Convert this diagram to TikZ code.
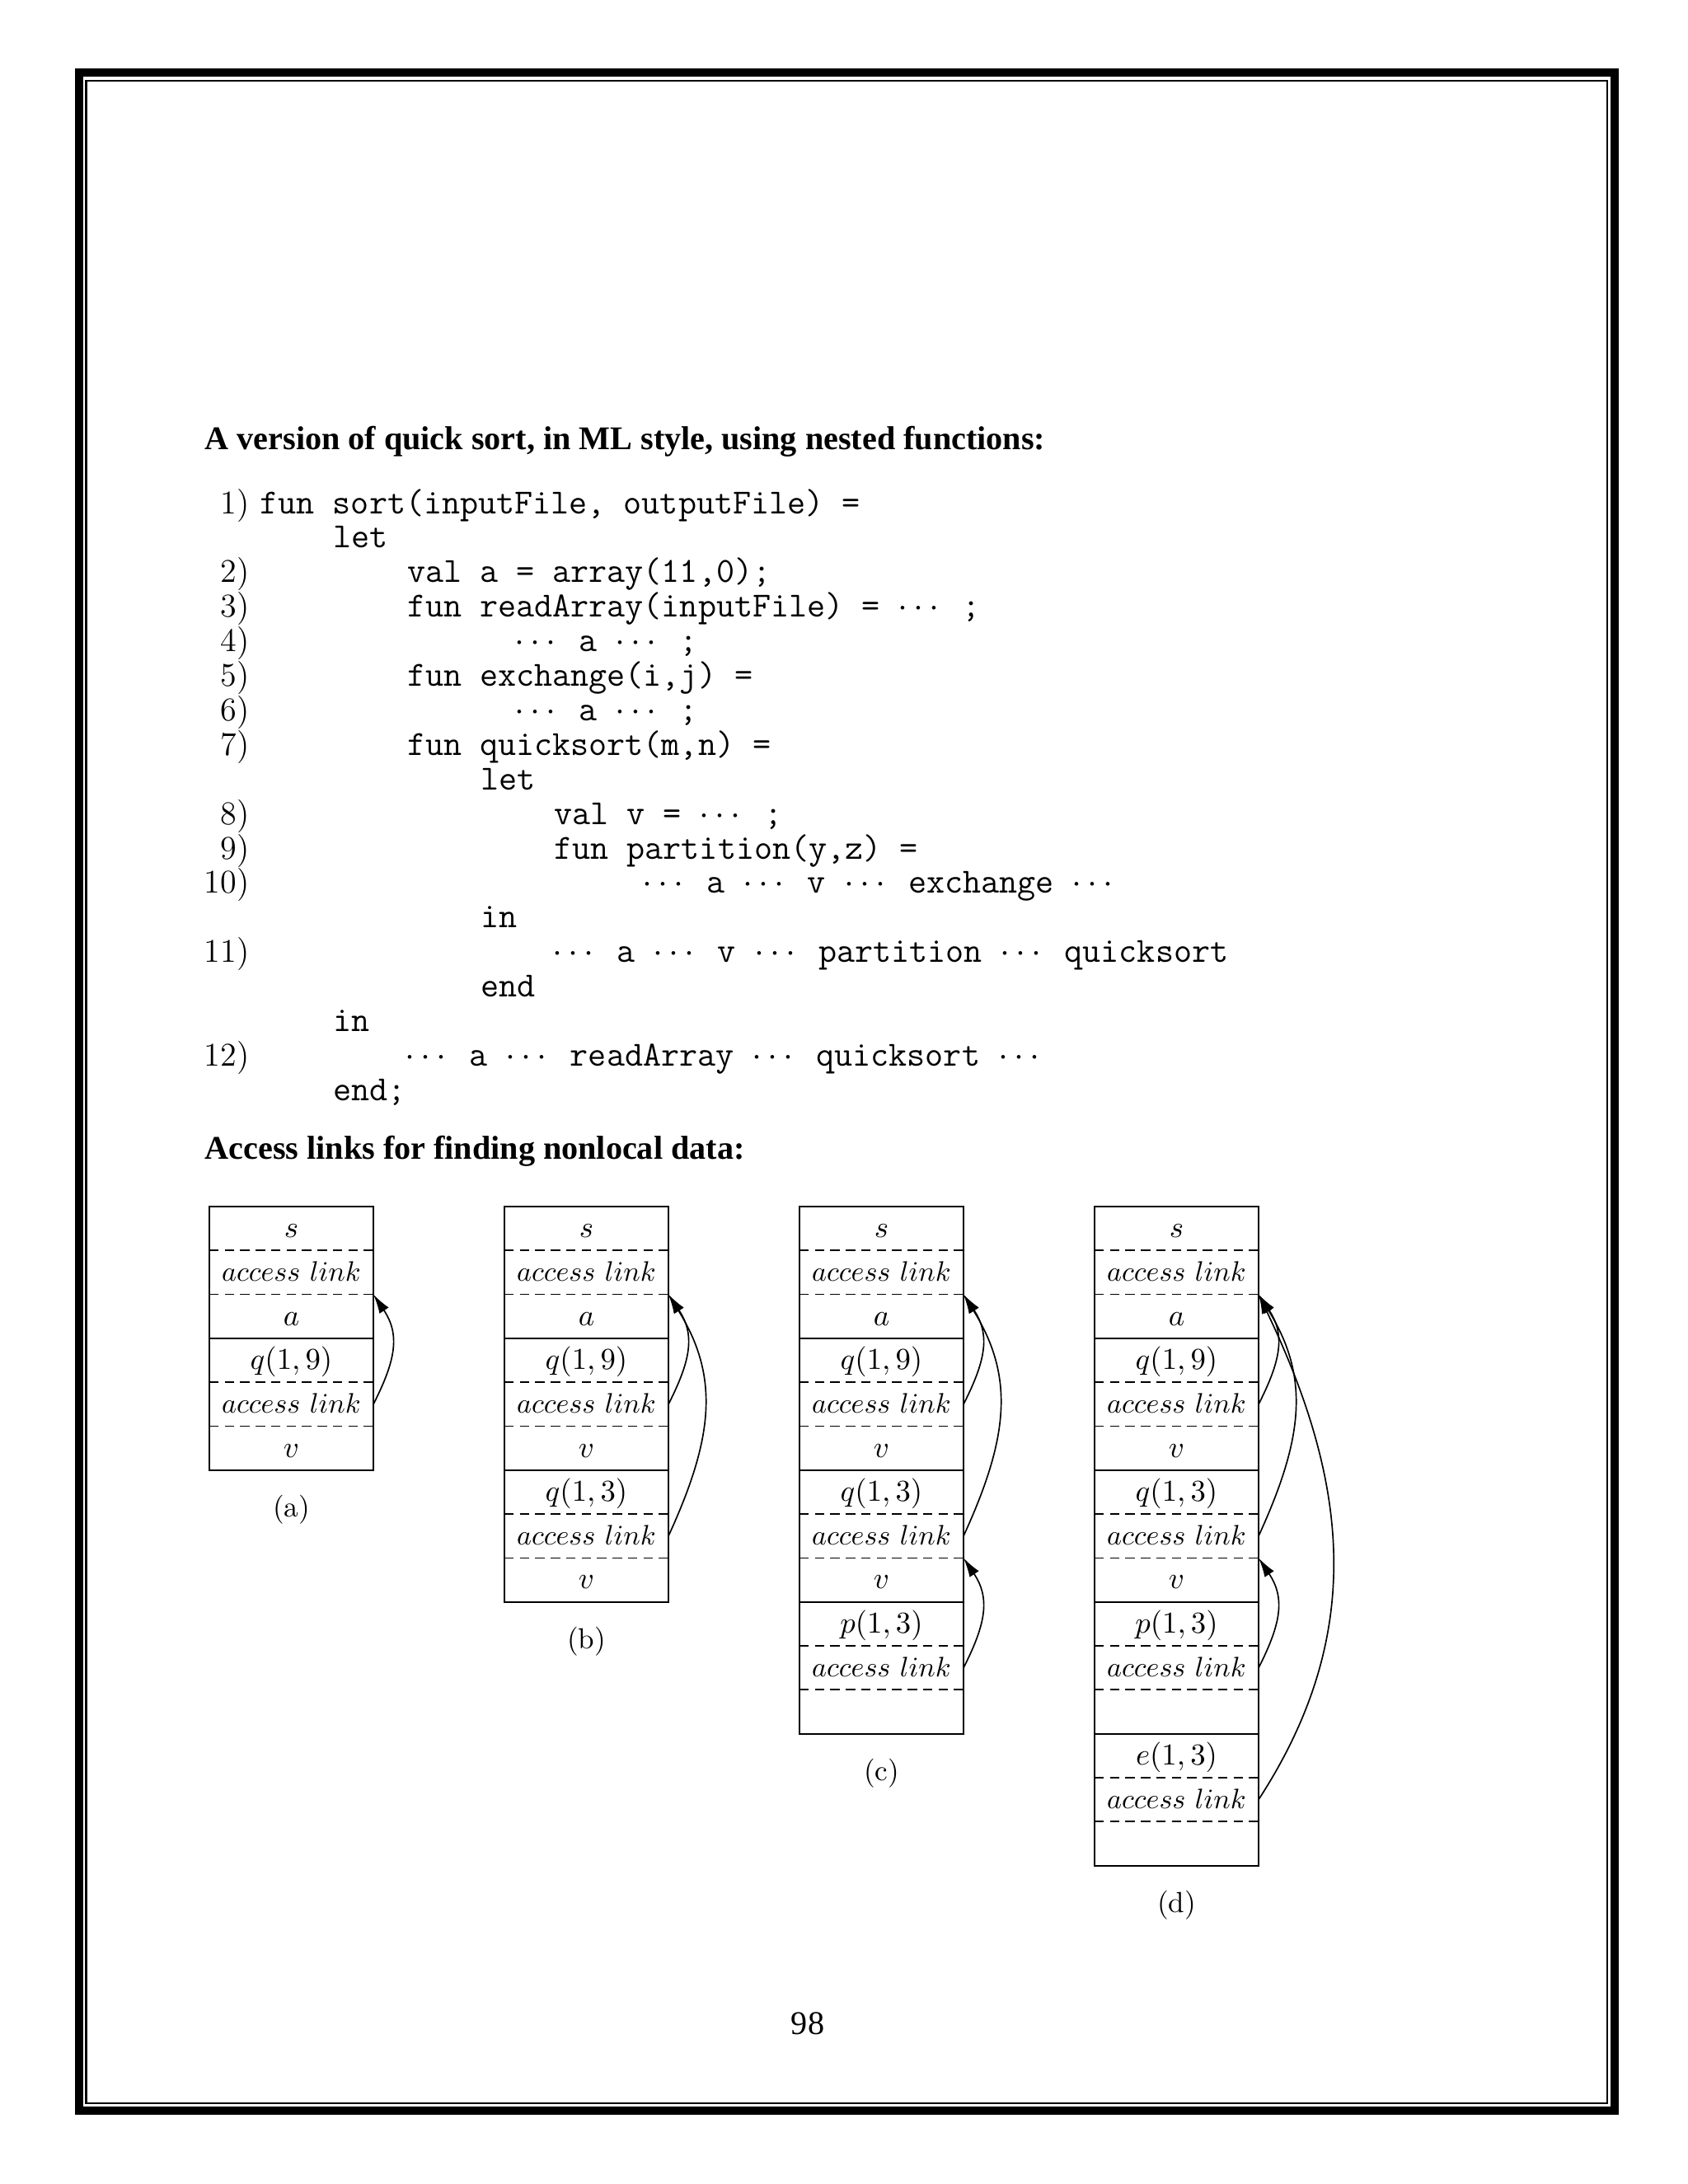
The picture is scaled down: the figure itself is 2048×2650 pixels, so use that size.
\RequirePackage{fix-cm}
\documentclass[tikz,border=0pt]{standalone}
\usepackage{fontspec}
\newfontfamily\timesfont{Liberation Serif}
\usetikzlibrary{arrows.meta}
\newcommand\mkrow[4]{\node[cell] (#1) at (#2,{1464+53.3*(#3-1)}) {#4};}
\newcommand\dsep[1]{\draw[dashsep] (#1.south west) -- (#1.south east);}
\newcommand\ssep[1]{\draw[boxline] (#1.south west) -- (#1.south east);}
\newcommand\dd{$\cdots$\kern1.8pt}
\newcommand\al{{\fontsize{10.2}{12}\selectfont$access\ link$}}
\begin{document}
\begin{tikzpicture}[x=0.29883pt, y=-0.29883pt,
  cell/.style={minimum width=59.47pt, minimum height=15.928pt, inner sep=0pt, outer sep=0pt, anchor=north west, text height=7.5pt, text depth=1pt, font=\fontsize{11}{13}\selectfont},
  dashsep/.style={line width=0.5pt, dash pattern=on 3.4pt off 2.2pt},
  boxline/.style={line width=0.6pt},
  acclink/.style={line width=0.5pt, -{Latex[length=7pt,width=4pt]}},
  codeline/.style={anchor=base west, inner sep=0pt, text height=9pt, text depth=2.5pt, font=\fontsize{12.8}{14}\selectfont\ttfamily},
  lineno/.style={anchor=base east, inner sep=0pt, text height=9pt, text depth=2.5pt, font=\fontsize{12}{14}\selectfont\rmfamily},
  heading/.style={anchor=base west, inner sep=0pt, font=\fontsize{12}{14}\selectfont\timesfont\bfseries},
  sublabel/.style={inner sep=0pt, font=\fontsize{10.5}{12}\selectfont}
]
\useasboundingbox (0,0) rectangle (2048,2650);
% page frame
\draw[line width=2.99pt] (96,88) rectangle (1959.3,2560.7);
\draw[line width=0.6pt] (104.5,97.5) rectangle (1950.2,2551.8);

% headings
\node[heading] (t1) at (248,545) {A version of quick sort, in ML style, using nested functions:};
\node[heading] (t2) at (248,1406) {Access links for finding nonlocal data:};
\node[anchor=base, inner sep=0pt, font=\fontsize{12}{14}\selectfont\timesfont] (pg) at (980,2468) {98};

% code
\node[codeline] (c1)  at (315.0,623.0)  {fun sort(inputFile, outputFile) =};
\node[codeline] (c2)  at (404.0,664.9)  {let};
\node[codeline] (c3)  at (493.4,706.8)  {val a = array(11,0);};
\node[codeline] (c4)  at (493.4,748.7)  {fun readArray(inputFile) = \dd{} ;};
\node[codeline] (c5)  at (624.0,790.6)  {\dd{} a \dd{} ;};
\node[codeline] (c6)  at (493.4,832.5)  {fun exchange(i,j) =};
\node[codeline] (c7)  at (624.0,874.4)  {\dd{} a \dd{} ;};
\node[codeline] (c8)  at (493.4,916.3)  {fun quicksort(m,n) =};
\node[codeline] (c9)  at (582.6,958.2)  {let};
\node[codeline] (c10) at (671.8,1000.1) {val v = \dd{} ;};
\node[codeline] (c11) at (671.8,1042.0) {fun partition(y,z) =};
\node[codeline] (c12) at (779.0,1083.9) {\dd{} a \dd{} v \dd{} exchange \dd};
\node[codeline] (c13) at (582.6,1125.8) {in};
\node[codeline] (c14) at (670.0,1167.7) {\dd{} a \dd{} v \dd{} partition \dd{} quicksort};
\node[codeline] (c15) at (582.6,1209.6) {end};
\node[codeline] (c16) at (404.0,1251.5) {in};
\node[codeline] (c17) at (491.0,1293.4) {\dd{} a \dd{} readArray \dd{} quicksort \dd};
\node[codeline] (c18) at (404.0,1335.3) {end;};

\node[lineno] (n1)  at (303,623.0)  {1)};
\node[lineno] (n2)  at (303,706.8)  {2)};
\node[lineno] (n3)  at (303,748.7)  {3)};
\node[lineno] (n4)  at (303,790.6)  {4)};
\node[lineno] (n5)  at (303,832.5)  {5)};
\node[lineno] (n6)  at (303,874.4)  {6)};
\node[lineno] (n7)  at (303,916.3)  {7)};
\node[lineno] (n8)  at (303,1000.1) {8)};
\node[lineno] (n9)  at (303,1042.0) {9)};
\node[lineno] (n10) at (303,1083.9) {10)};
\node[lineno] (n11) at (303,1167.7) {11)};
\node[lineno] (n12) at (303,1293.4) {12)};

% ---------- stack (a)
\mkrow{A1}{254}{1}{$s$}
\mkrow{A2}{254}{2}{\al}
\mkrow{A3}{254}{3}{$a$}
\mkrow{A4}{254}{4}{$q(1,9)$}
\mkrow{A5}{254}{5}{\al}
\mkrow{A6}{254}{6}{$v$}
\draw[boxline] (A1.north west) rectangle (A6.south east);
\dsep{A1}\dsep{A2}\ssep{A3}\dsep{A4}\dsep{A5}
\node[sublabel] (la) at (353.5,1832) {(a)};
\draw[acclink] (A5.east) .. controls +(28,-55) and +(32,48) .. (A2.south east);

% ---------- stack (b)
\mkrow{B1}{612}{1}{$s$}
\mkrow{B2}{612}{2}{\al}
\mkrow{B3}{612}{3}{$a$}
\mkrow{B4}{612}{4}{$q(1,9)$}
\mkrow{B5}{612}{5}{\al}
\mkrow{B6}{612}{6}{$v$}
\mkrow{B7}{612}{7}{$q(1,3)$}
\mkrow{B8}{612}{8}{\al}
\mkrow{B9}{612}{9}{$v$}
\draw[boxline] (B1.north west) rectangle (B9.south east);
\dsep{B1}\dsep{B2}\ssep{B3}\dsep{B4}\dsep{B5}\ssep{B6}\dsep{B7}\dsep{B8}
\node[sublabel] (lb) at (711.5,1992) {(b)};
\draw[acclink] (B5.east) .. controls +(28,-55) and +(32,48) .. (B2.south east);
\draw[acclink] (B8.east) .. controls +(55,-120) and +(62,100) .. (B2.south east);

% ---------- stack (c)
\mkrow{C1}{970}{1}{$s$}
\mkrow{C2}{970}{2}{\al}
\mkrow{C3}{970}{3}{$a$}
\mkrow{C4}{970}{4}{$q(1,9)$}
\mkrow{C5}{970}{5}{\al}
\mkrow{C6}{970}{6}{$v$}
\mkrow{C7}{970}{7}{$q(1,3)$}
\mkrow{C8}{970}{8}{\al}
\mkrow{C9}{970}{9}{$v$}
\mkrow{C10}{970}{10}{$p(1,3)$}
\mkrow{C11}{970}{11}{\al}
\mkrow{C12}{970}{12}{}
\draw[boxline] (C1.north west) rectangle (C12.south east);
\dsep{C1}\dsep{C2}\ssep{C3}\dsep{C4}\dsep{C5}\ssep{C6}\dsep{C7}\dsep{C8}\ssep{C9}\dsep{C10}\dsep{C11}
\node[sublabel] (lc) at (1069.5,2152) {(c)};
\draw[acclink] (C5.east) .. controls +(28,-55) and +(32,48) .. (C2.south east);
\draw[acclink] (C8.east) .. controls +(55,-120) and +(62,100) .. (C2.south east);
\draw[acclink] (C11.east) .. controls +(28,-55) and +(32,48) .. (C8.south east);

% ---------- stack (d)
\mkrow{D1}{1328}{1}{$s$}
\mkrow{D2}{1328}{2}{\al}
\mkrow{D3}{1328}{3}{$a$}
\mkrow{D4}{1328}{4}{$q(1,9)$}
\mkrow{D5}{1328}{5}{\al}
\mkrow{D6}{1328}{6}{$v$}
\mkrow{D7}{1328}{7}{$q(1,3)$}
\mkrow{D8}{1328}{8}{\al}
\mkrow{D9}{1328}{9}{$v$}
\mkrow{D10}{1328}{10}{$p(1,3)$}
\mkrow{D11}{1328}{11}{\al}
\mkrow{D12}{1328}{12}{}
\mkrow{D13}{1328}{13}{$e(1,3)$}
\mkrow{D14}{1328}{14}{\al}
\mkrow{D15}{1328}{15}{}
\draw[boxline] (D1.north west) rectangle (D15.south east);
\dsep{D1}\dsep{D2}\ssep{D3}\dsep{D4}\dsep{D5}\ssep{D6}\dsep{D7}\dsep{D8}\ssep{D9}\dsep{D10}\dsep{D11}\ssep{D12}\dsep{D13}\dsep{D14}
\node[sublabel] (ld) at (1427.5,2312) {(d)};
\draw[acclink] (D5.east) .. controls +(28,-55) and +(32,48) .. (D2.south east);
\draw[acclink] (D8.east) .. controls +(55,-120) and +(62,100) .. (D2.south east);
\draw[acclink] (D11.east) .. controls +(28,-55) and +(32,48) .. (D8.south east);
\draw[acclink] (D14.east) .. controls +(130,-200) and +(110,230) .. (D2.south east);
\end{tikzpicture}
\end{document}
